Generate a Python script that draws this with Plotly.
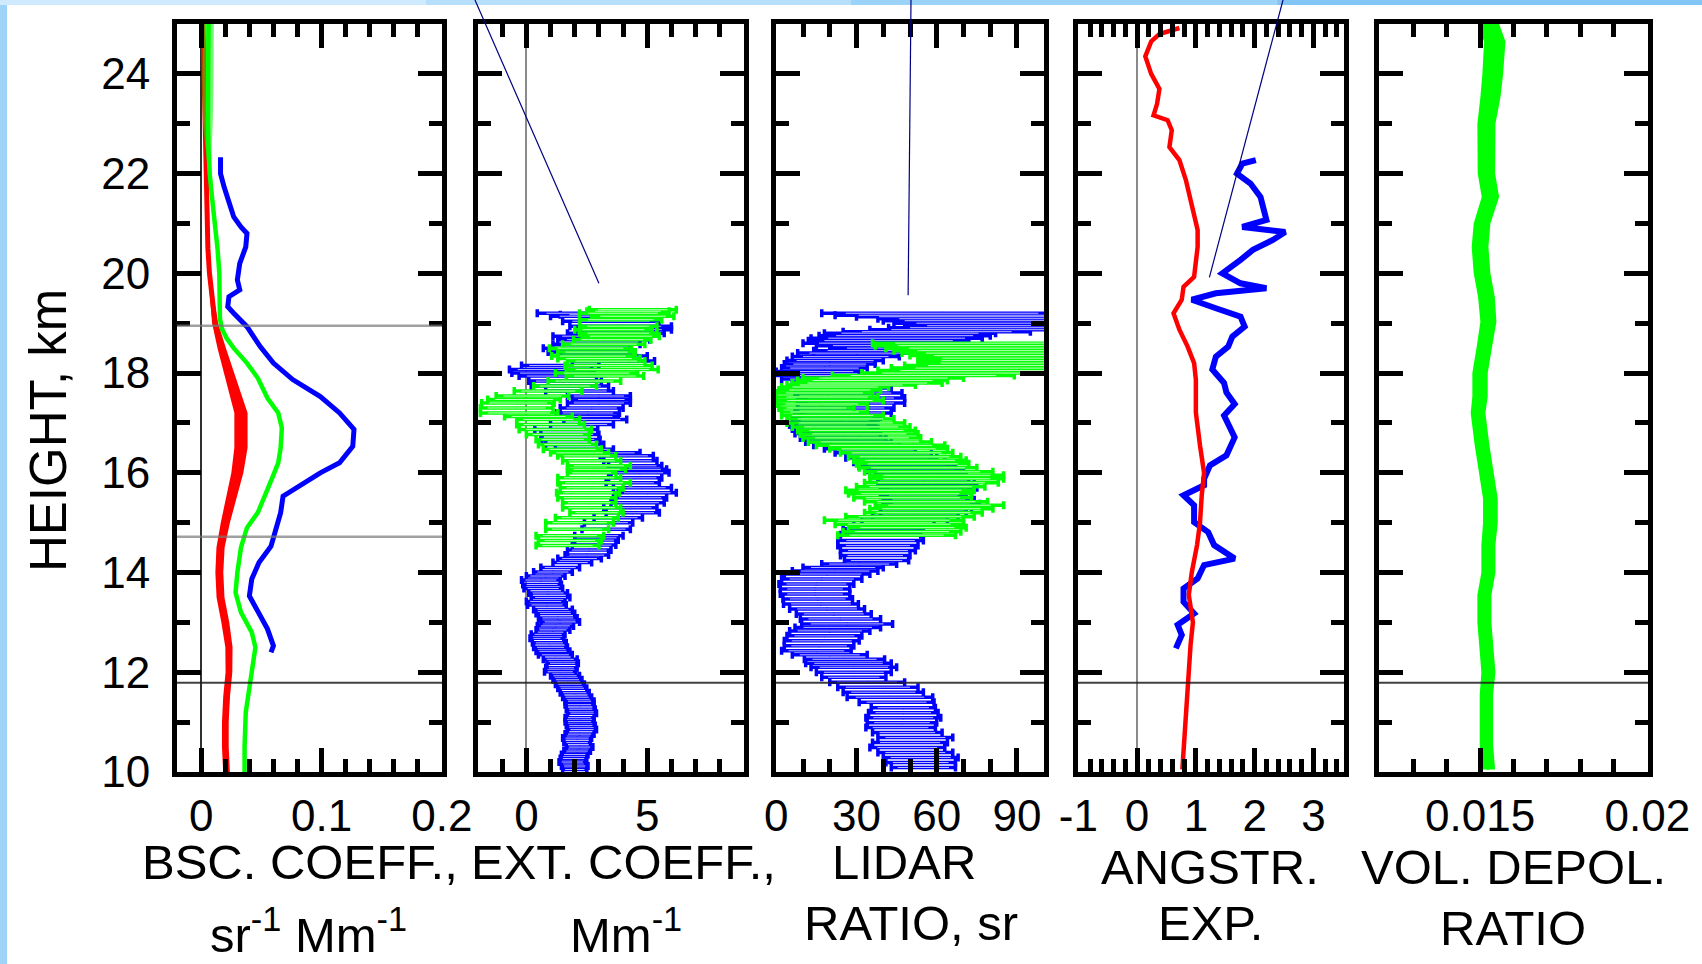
import plotly.graph_objects as go

FONT = "Liberation Sans, Arial, Helvetica, sans-serif"
BLUE, GREEN, RED = "#0000ff", "#00ff00", "#ff0000"

# ---------------- backscatter coefficient (sr^-1 Mm^-1) ----------------
bsc_red_h = [25.0, 24.5, 24.0, 23.5, 23.0, 22.5, 22.0, 21.5, 21.0, 20.5, 20.0, 19.5,
             19.0, 18.5, 18.0, 17.5, 17.2, 16.9, 16.5, 16.0, 15.5, 15.0, 14.5, 14.0,
             13.5, 13.0, 12.5, 12.0, 11.5, 11.0, 10.5, 10.0]
bsc_red = [0.0014, 0.0018, 0.0022, 0.0026, 0.0029, 0.0032, 0.0035, 0.0040, 0.0045, 0.0055,
           0.0068, 0.0088, 0.0115, 0.0170, 0.0230, 0.0290, 0.0330, 0.0330, 0.0330, 0.0300,
           0.0250, 0.0200, 0.0160, 0.0150, 0.0160, 0.0200, 0.0230, 0.0230, 0.0210, 0.0200,
           0.0200, 0.0210]
bsc_red_err = [0.0006, 0.0006, 0.0006, 0.0006, 0.0006, 0.0007, 0.0007, 0.0008, 0.0008, 0.0010,
               0.0012, 0.0017, 0.0025, 0.0035, 0.0043, 0.0052, 0.0055, 0.0055, 0.0055, 0.0050,
               0.0043, 0.0038, 0.0034, 0.0033, 0.0033, 0.0033, 0.0030, 0.0028, 0.0028, 0.0028,
               0.0028, 0.0028]

bsc_green_h = [25.0, 24.5, 24.0, 23.5, 23.0, 22.5, 22.0, 21.5, 21.0, 20.5, 20.0, 19.5, 19.1,
               18.9, 18.7, 18.5, 18.2, 17.9, 17.5, 17.2, 16.9, 16.5, 16.2, 15.9, 15.5, 15.2,
               14.9, 14.5, 14.0, 13.6, 13.2, 12.8, 12.5, 12.0, 11.7, 11.2, 10.5, 10.0]
bsc_green = [0.0060, 0.0058, 0.0056, 0.0055, 0.0055, 0.0060, 0.0070, 0.0090, 0.0115, 0.0135,
             0.0150, 0.0153, 0.0155, 0.0170, 0.0210, 0.0270, 0.0380, 0.0470, 0.0550, 0.0640,
             0.0670, 0.0660, 0.0640, 0.0590, 0.0520, 0.0470, 0.0380, 0.0330, 0.0300, 0.0285,
             0.0330, 0.0420, 0.0450, 0.0420, 0.0400, 0.0370, 0.0360, 0.0360]
bsc_green_err = [0.0045, 0.0047, 0.0047, 0.0045, 0.0040, 0.0025, 0.0015, 0.0012, 0.0010, 0.0010,
                 0.0010, 0.0010, 0.0010, 0.0010, 0.0010, 0.0010, 0.0012, 0.0012, 0.0012, 0.0012,
                 0.0012, 0.0012, 0.0012, 0.0012, 0.0012, 0.0012, 0.0012, 0.0012, 0.0012, 0.0012,
                 0.0012, 0.0012, 0.0012, 0.0012, 0.0012, 0.0012, 0.0012, 0.0012]

bsc_blue_h = [22.33, 22.0, 21.73, 21.4, 21.13, 20.93, 20.8, 20.53, 20.2, 19.87, 19.67, 19.53,
              19.33, 19.2, 18.93, 18.53, 18.2, 17.87, 17.53, 17.2, 16.87, 16.53, 16.2, 16.0,
              15.73, 15.53, 15.2, 14.87, 14.53, 14.2, 13.87, 13.53, 13.2, 12.87, 12.53, 12.4]
bsc_blue = [0.016, 0.016, 0.019, 0.023, 0.027, 0.033, 0.038, 0.037, 0.032, 0.030, 0.032, 0.023,
            0.022, 0.027, 0.038, 0.049, 0.060, 0.076, 0.099, 0.115, 0.127, 0.126, 0.115, 0.099,
            0.082, 0.068, 0.066, 0.062, 0.058, 0.048, 0.042, 0.040, 0.048, 0.055, 0.060, 0.058]

# ---------------- extinction coefficient (Mm^-1) ----------------
ext_blue_h = [19.20, 19.17, 19.14, 19.04, 18.94, 18.87, 18.80, 18.74, 18.67, 18.58, 18.50,
              18.42, 18.34, 18.24, 18.15, 18.07, 18.00, 17.94, 17.84, 17.74, 17.64, 17.54,
              17.47, 17.40, 17.30, 17.20, 17.13, 17.07, 16.97, 16.87, 16.77, 16.67, 16.57,
              16.47, 16.40, 16.34, 16.24, 16.14, 16.07, 16.00, 15.90, 15.80, 15.70, 15.60,
              15.50, 15.40, 15.30, 15.20, 15.10, 15.00, 14.87, 14.74, 14.65, 14.55, 14.45,
              14.35, 14.28, 14.20, 14.10, 14.01, 13.93, 13.85, 13.76, 13.68, 13.59, 13.50,
              13.42, 13.35, 13.26, 13.18, 13.09, 13.01, 12.93, 12.85, 12.76, 12.68, 12.59,
              12.50, 12.42, 12.35, 12.26, 12.18, 12.09, 12.01, 11.93, 11.85, 11.76, 11.68,
              11.59, 11.50, 11.42, 11.35, 11.26, 11.18, 11.09, 11.01, 10.93, 10.85, 10.76,
              10.68, 10.59, 10.50, 10.42, 10.35, 10.27, 10.20, 10.12, 10.05]
ext_blue = [2.35, 3.3, 2.9, 3.5, 3.9, 4.0, 3.7, 3.0, 3.2, 2.9, 2.5, 2.7, 3.2, 3.6, 1.4, 1.0,
            1.1, 1.3, 1.6, 1.8, 2.2, 3.0, 3.1, 3.0, 2.7, 2.55, 2.6, 2.85, 2.3, 1.65, 1.8, 1.85,
            2.0, 2.4, 3.6, 4.15, 4.3, 4.5, 4.6, 4.7, 4.5, 4.4, 4.8, 5.0, 4.7, 4.6, 4.3, 4.4,
            3.8, 3.4, 3.3, 3.0, 2.9, 2.8, 2.6, 2.5, 2.2, 1.9, 1.4, 1.1, 0.8, 0.6, 0.65, 0.7,
            0.9, 1.0, 0.8, 0.85, 1.1, 1.2, 1.3, 1.4, 1.2, 1.1, 0.9, 0.85, 0.95, 1.0, 1.1, 1.2,
            1.4, 1.5, 1.45, 1.4, 1.6, 1.7, 1.8, 1.9, 2.0, 2.1, 2.2, 2.2, 2.25, 2.3, 2.2, 2.2,
            2.25, 2.3, 2.2, 2.1, 2.1, 2.2, 2.1, 2.0, 1.95, 1.9, 2.0, 2.0]
ext_blue_err = [1.9, 1.9, 1.9, 2.0, 2.1, 2.0, 2.0, 1.9, 1.9, 1.8, 1.8, 1.8, 1.8, 1.7, 1.6,
                1.7, 1.7, 1.6, 1.5, 1.6, 1.4, 1.3, 1.2, 1.3, 1.3, 1.3, 1.2, 1.3, 1.3, 1.3, 1.2,
                1.2, 1.2, 1.2, 1.1, 1.1, 1.1, 1.1, 1.2, 1.2, 1.1, 1.1, 1.2, 1.2, 1.1, 1.1, 1.1,
                1.1, 1.0, 1.0, 1.0, 1.0, 0.9, 0.9, 0.9, 0.9, 0.9, 0.8, 0.8, 0.8, 0.8, 0.8, 0.8,
                0.8, 0.8, 0.8, 0.8, 0.8, 0.8, 0.8, 0.8, 0.8, 0.75, 0.7, 0.7, 0.7, 0.7, 0.7, 0.7,
                0.7, 0.7, 0.65, 0.65, 0.65, 0.6, 0.6, 0.6, 0.6, 0.6, 0.6, 0.6, 0.6, 0.6, 0.6,
                0.6, 0.6, 0.6, 0.6, 0.6, 0.6, 0.55, 0.55, 0.55, 0.55, 0.55, 0.55, 0.55, 0.5]

ext_green_h = [19.27, 19.24, 19.20, 19.14, 19.07, 18.94, 18.87, 18.80, 18.74, 18.67, 18.58,
               18.50, 18.42, 18.34, 18.29, 18.24, 18.15, 18.07, 18.00, 17.94, 17.84, 17.74,
               17.64, 17.54, 17.47, 17.40, 17.30, 17.20, 17.13, 17.07, 16.97, 16.87, 16.77,
               16.67, 16.57, 16.47, 16.40, 16.34, 16.24, 16.14, 16.07, 16.00, 15.90, 15.80,
               15.70, 15.60, 15.50, 15.40, 15.30, 15.20, 15.10, 15.00, 14.87, 14.74, 14.64,
               14.54]
ext_green = [4.4, 4.2, 4.0, 4.4, 3.9, 3.8, 3.6, 3.8, 3.9, 3.55, 3.2, 2.65, 2.9, 2.75, 3.0,
             3.3, 3.4, 3.55, 2.9, 3.25, 2.4, 1.6, 0.9, 0.25, -0.1, -0.35, -0.4, -0.3, 0.5, 0.9,
             1.0, 1.2, 1.3, 1.5, 1.7, 1.9, 2.2, 2.5, 2.7, 3.0, 2.9, 2.7, 2.6, 2.8, 2.7, 2.55,
             2.5, 2.6, 2.7, 2.9, 2.5, 2.2, 2.1, 1.8, 1.8, 1.7]
ext_green_err = [1.8, 1.7, 1.8, 1.7, 1.7, 1.6, 1.6, 1.6, 1.6, 1.6, 1.7, 1.7, 1.6, 1.7, 1.7,
                 1.6, 1.8, 1.9, 1.7, 1.6, 1.5, 1.3, 1.4, 1.5, 1.5, 1.5, 1.5, 1.6, 1.4, 1.3, 1.4,
                 1.5, 1.3, 1.1, 1.2, 1.2, 1.2, 1.2, 1.2, 1.3, 1.2, 1.0, 1.3, 1.5, 1.3, 1.3, 1.2,
                 1.1, 1.2, 1.1, 1.3, 1.4, 1.3, 1.4, 1.3, 1.3]

# ---------------- lidar ratio (sr) ----------------
lr_blue_h = [19.20, 19.16, 19.13, 19.09, 19.05, 19.00, 18.95, 18.91, 18.87, 18.83, 18.80,
             18.75, 18.70, 18.65, 18.60, 18.55, 18.50, 18.45, 18.40, 18.33, 18.25, 18.18,
             18.10, 18.03, 17.95, 17.88, 17.80, 17.70, 17.60, 17.50, 17.40, 17.30, 17.20,
             17.12, 17.05, 16.96, 16.88, 16.79, 16.70, 16.62, 16.55, 16.48, 16.40, 16.30,
             16.21, 16.13, 16.05, 15.96, 15.88, 15.79, 15.70, 15.62, 15.55, 15.46, 15.38,
             15.29, 15.21, 15.13, 15.05, 14.96, 14.88, 14.76, 14.64, 14.54, 14.44, 14.34,
             14.24, 14.17, 14.10, 14.03, 13.97, 13.87, 13.77, 13.67, 13.57, 13.47, 13.37,
             13.27, 13.17, 13.07, 12.97, 12.90, 12.83, 12.73, 12.63, 12.53, 12.43, 12.35,
             12.26, 12.18, 12.10, 12.00, 11.90, 11.80, 11.70, 11.60, 11.50, 11.40, 11.29,
             11.19, 11.09, 10.99, 10.89, 10.79, 10.69, 10.59, 10.49, 10.39, 10.29, 10.19,
             10.09]
lr_blue = [62, 66, 72, 78, 80, 86, 90, 82, 75, 60, 50, 48, 45, 42, 40, 46, 52, 40, 30, 26,
           22, 20, 18, 16, 15, 18, 22, 25, 27, 28, 28, 26, 25, 23, 22, 21, 22, 23, 25, 27,
           30, 35, 40, 43, 46, 49, 52, 54, 55, 56, 57, 56, 55, 57, 58, 56, 55, 52, 48, 44,
           40, 39, 39, 38, 38, 37, 37.5, 31, 25, 22, 19, 17, 15, 14.5, 14.5, 15.5, 16.7, 19,
           21.5, 24, 26.5, 23, 20, 18, 17, 16, 15, 20, 25.5, 27, 29, 29, 29, 34, 38, 40,
           42.5, 45, 47.5, 47.5, 47.5, 47, 46.5, 49, 52, 50, 49, 52, 54, 54, 55]
lr_blue_err = [45, 44, 42, 40, 40, 42, 42, 40, 40, 35, 32, 32, 32, 30, 30, 31, 32, 26, 22,
               20, 18, 17, 16, 16, 16, 16, 16, 18, 20, 20, 20, 18, 18, 16, 16, 16, 16, 16,
               16, 16, 16, 17, 18, 17, 17, 18, 18, 17, 17, 18, 18, 17, 16, 17, 18, 17, 16,
               16, 16, 15, 15, 15, 16, 15, 14, 13, 12, 14, 15, 16, 16, 15, 14, 13, 13, 13,
               14, 14, 14, 15, 17, 16, 15, 14, 14, 13, 13, 14, 15, 16, 16, 14, 12, 14, 15,
               15, 16, 14, 12, 13, 14, 13, 13, 13, 14, 14, 14, 14, 14, 13, 12]

lr_green_h = [18.60, 18.55, 18.50, 18.45, 18.40, 18.35, 18.30, 18.25, 18.20, 18.15, 18.10,
              18.05, 18.00, 17.95, 17.90, 17.85, 17.80, 17.76, 17.72, 17.66, 17.60, 17.52,
              17.45, 17.38, 17.30, 17.22, 17.15, 17.08, 17.00, 16.92, 16.85, 16.78, 16.70,
              16.62, 16.55, 16.48, 16.40, 16.32, 16.25, 16.18, 16.10, 16.02, 15.95, 15.88,
              15.80, 15.72, 15.65, 15.58, 15.50, 15.42, 15.35, 15.28, 15.20, 15.12, 15.05,
              14.97, 14.90, 14.82, 14.75]
lr_green = [78, 80, 85, 88, 92, 95, 98, 97, 95, 92, 88, 80, 70, 55, 40, 36, 34, 28, 22, 20,
            18, 19, 20, 17, 15, 18, 21, 24, 26, 28, 30, 31, 32, 35, 39, 42, 45, 48, 50, 51,
            53, 57, 60, 60, 58, 54, 50, 50, 51, 56, 61, 58, 55, 50, 44, 46, 49, 47, 45]
lr_green_err = [42, 43, 44, 44, 45, 45, 45, 44, 42, 44, 45, 42, 38, 34, 30, 28, 28, 24, 20,
                19, 18, 19, 20, 17, 14, 16, 19, 20, 22, 22, 22, 22, 22, 23, 24, 22, 21, 21,
                21, 21, 22, 24, 25, 25, 25, 24, 24, 23, 22, 23, 24, 23, 22, 24, 26, 24, 22,
                22, 22]

# ---------------- Angstrom exponent ----------------
ae_red_h = [24.92, 24.80, 24.65, 24.35, 24.0, 23.7, 23.4, 23.17, 23.07, 22.87, 22.53, 22.27,
            21.87, 21.53, 21.2, 20.87, 20.53, 20.2, 19.93, 19.73, 19.47, 19.2, 18.87, 18.53,
            18.2, 17.87, 17.53, 17.21, 16.55, 16.0, 15.55, 15.0, 14.55, 14.0, 13.55, 13.0,
            12.55, 12.0, 11.55, 11.0, 10.55, 10.05]
ae_red = [0.72, 0.38, 0.24, 0.14, 0.24, 0.38, 0.34, 0.28, 0.52, 0.59, 0.55, 0.72, 0.83, 0.90,
          0.97, 1.03, 1.03, 1.00, 0.97, 0.79, 0.76, 0.62, 0.72, 0.86, 0.97, 1.00, 1.00, 1.00,
          1.07, 1.14, 1.10, 1.07, 1.02, 0.93, 0.88, 0.95, 0.91, 0.88, 0.86, 0.84, 0.81, 0.77]

ae_blue_h = [22.27, 22.2, 22.0, 21.8, 21.53, 21.27, 21.07, 20.93, 20.83, 20.67, 20.47, 20.27,
             20.0, 19.8, 19.7, 19.6, 19.47, 19.3, 19.13, 18.93, 18.73, 18.53, 18.33, 18.07,
             17.8, 17.61, 17.38, 17.15, 16.71, 16.35, 16.15, 15.88, 15.75, 15.55, 15.35,
             15.01, 14.81, 14.55, 14.28, 14.15, 13.88, 13.68, 13.41, 13.18, 12.95, 12.75,
             12.55, 12.48]
ae_blue = [2.02, 1.79, 1.70, 1.93, 2.10, 2.17, 2.20, 1.79, 2.52, 2.31, 1.97, 1.76, 1.45, 1.76,
           2.20, 1.34, 0.93, 1.34, 1.76, 1.83, 1.62, 1.55, 1.34, 1.28, 1.48, 1.52, 1.66, 1.48,
           1.66, 1.52, 1.24, 1.14, 1.14, 0.79, 0.97, 0.97, 1.21, 1.31, 1.66, 1.14, 1.03, 0.79,
           0.79, 0.97, 0.69, 0.76, 0.69, 0.66]

# ---------------- volume depolarization ratio ----------------
vdr_h = [25.0, 24.65, 24.0, 23.53, 23.0, 22.53, 22.0, 21.53, 21.0, 20.53, 20.0, 19.53, 19.03,
         18.53, 18.0, 17.53, 17.2, 16.55, 16.0, 15.48, 15.0, 14.55, 14.0, 13.55, 13.0, 12.55,
         12.0, 11.55, 11.0, 10.55, 10.05]
vdr = [0.01525, 0.01544, 0.01538, 0.01531, 0.01519, 0.01519, 0.01519, 0.01531, 0.01506,
       0.01500, 0.01506, 0.01519, 0.01525, 0.01513, 0.01500, 0.01500, 0.01494, 0.01506,
       0.01519, 0.01531, 0.01531, 0.01525, 0.01525, 0.01513, 0.01513, 0.01519, 0.01525,
       0.01519, 0.01519, 0.01519, 0.01525]
vdr_err = [0.00032, 0.00032, 0.00031, 0.00030, 0.00027, 0.00027, 0.00026, 0.00026, 0.00025,
           0.00025, 0.00025, 0.00025, 0.00024, 0.00023, 0.00023, 0.00023, 0.00022, 0.00022,
           0.00022, 0.00022, 0.00022, 0.00021, 0.00021, 0.00021, 0.00021, 0.00021, 0.00021,
           0.00020, 0.00020, 0.00020, 0.00020]

# layer boundaries (km)
tropopause_km = 11.79
layer_edges_km = [18.95, 14.72]

# axis ticks
height_ticks = [10, 12, 14, 16, 18, 20, 22, 24]
x_tickvals = [[0, 0.1, 0.2], [0, 5], [0, 30, 60, 90], [-1, 0, 1, 2, 3], [0.015, 0.02]]
x_ticktext = [["0", "0.1", "0.2"], ["0", "5"], ["0", "30", "60", "90"],
              ["-1", "0", "1", "2", "3"], ["0.015", "0.02"]]
x_titles = [("BSC. COEFF.,", "sr<sup>-1</sup> Mm<sup>-1</sup>"), ("EXT. COEFF.,", "Mm<sup>-1</sup>"),
            ("LIDAR", "RATIO, sr"), ("ANGSTR.", "EXP."), ("VOL. DEPOL.", "RATIO")]

# ---------------- page geometry (pixels) ----------------
W, H = 1702, 964
PL, PR, PT, PB = 177, 1648, 24, 772
panel_px = [(177, 442), (478, 744), (776, 1044), (1078, 1344), (1379, 1648)]
x_ranges = [[-0.0202, 0.2002], [-2, 9], [-0.1, 100.1], [-1.005, 3.52], [0.01198, 0.02002]]
minor_steps = [(0, 0.02), (0, 1), (0, 10), (-1, 0.2), (0.012, 0.001)]
zero_lines = [("#303030", 1.5), ("#8a8a8a", 2), None, ("#8a8a8a", 1.5), None]
title_x_px = [(300, 308), (623, 626), (904, 911), (1210, 1210), (1513, 1513)]
title_y_px = [(862, 931), (862, 931), (862, 923), (867, 923), (867, 928)]


def fx(px):
    return (px - PL) / (PR - PL)


def fy(py):
    return (PB - py) / (PB - PT)


def data_to_paper(i, x, y):
    lo, hi = panel_px[i]
    r0, r1 = x_ranges[i]
    xp = lo + (x - r0) / (r1 - r0) * (hi - lo)
    yp = PB - (y - 10) / 15 * (PB - PT)
    return fx(xp), fy(yp)


fig = go.Figure()


def ax_name(i, kind):
    return kind if i == 0 else f"{kind}{i + 1}"


def band(i, xs, errs, hs, color):
    lo = [v - e for v, e in zip(xs, errs)]
    hi = [v + e for v, e in zip(xs, errs)]
    fig.add_trace(go.Scatter(x=lo, y=hs, mode="lines", line=dict(width=0, color=color),
                             xaxis=ax_name(i, "x"), yaxis=ax_name(i, "y"), hoverinfo="skip"))
    fig.add_trace(go.Scatter(x=hi, y=hs, mode="lines", line=dict(width=0, color=color),
                             fill="tonextx", fillcolor=color,
                             xaxis=ax_name(i, "x"), yaxis=ax_name(i, "y"), hoverinfo="skip"))


def line(i, xs, hs, color, width):
    fig.add_trace(go.Scatter(x=xs, y=hs, mode="lines", line=dict(color=color, width=width),
                             xaxis=ax_name(i, "x"), yaxis=ax_name(i, "y")))


def errbars(i, xs, errs, hs, color):
    # coloured bar with a thin white core
    fig.add_trace(go.Scatter(x=xs, y=hs, mode="markers", marker=dict(size=3, color=color),
                             error_x=dict(type="data", array=errs, color=color, thickness=3.5, width=4),
                             xaxis=ax_name(i, "x"), yaxis=ax_name(i, "y")))
    fig.add_trace(go.Scatter(x=xs, y=hs, mode="markers", marker=dict(size=0.1, color=color),
                             error_x=dict(type="data", array=[e * 0.8 for e in errs],
                                          color="rgba(255,255,255,0.75)", thickness=1, width=0),
                             xaxis=ax_name(i, "x"), yaxis=ax_name(i, "y")))


# panel 1: backscatter
band(0, bsc_red, bsc_red_err, bsc_red_h, RED)
line(0, bsc_red, bsc_red_h, RED, 5)
band(0, bsc_green, bsc_green_err, bsc_green_h, "rgba(0,255,0,0.55)")
line(0, bsc_green, bsc_green_h, GREEN, 4.5)
line(0, bsc_blue, bsc_blue_h, BLUE, 5)

# panel 2: extinction
errbars(1, ext_blue, ext_blue_err, ext_blue_h, BLUE)
errbars(1, ext_green, ext_green_err, ext_green_h, GREEN)

# panel 3: lidar ratio
errbars(2, lr_blue, lr_blue_err, lr_blue_h, BLUE)
errbars(2, lr_green, lr_green_err, lr_green_h, GREEN)

# panel 4: Angstrom exponent
line(3, ae_blue, ae_blue_h, BLUE, 6)
line(3, ae_red, ae_red_h, RED, 4.5)

# panel 5: depolarization
band(4, vdr, vdr_err, vdr_h, GREEN)
line(4, vdr, vdr_h, GREEN, 3)

tick_font = dict(family=FONT, size=44, color="black")
layout = dict(
    width=W, height=H, showlegend=False,
    paper_bgcolor="white", plot_bgcolor="white",
    margin=dict(l=PL, r=W - PR, t=PT, b=H - PB, pad=0),
    font=dict(family=FONT, color="black"),
)

for i in range(5):
    lo, hi = panel_px[i]
    t0, dt = minor_steps[i]
    xa = dict(
        domain=[fx(lo), fx(hi)], range=x_ranges[i], anchor=ax_name(i, "y"),
        showline=True, linecolor="black", linewidth=5, mirror="ticks",
        ticks="inside", ticklen=24, tickwidth=5, tickcolor="black",
        tickmode="array", tickvals=x_tickvals[i], ticktext=x_ticktext[i],
        tickfont=tick_font, ticklabelstandoff=1, showgrid=False,
        minor=dict(ticks="inside", ticklen=13, tickwidth=5, tickcolor="black",
                   tickmode="linear", tick0=t0, dtick=dt, showgrid=False),
        fixedrange=True,
    )
    if zero_lines[i]:
        xa.update(zeroline=True, zerolinecolor=zero_lines[i][0], zerolinewidth=zero_lines[i][1])
    else:
        xa.update(zeroline=False)
    ya = dict(
        domain=[0, 1], range=[10, 25], anchor=ax_name(i, "x"),
        showline=True, linecolor="black", linewidth=5, mirror="ticks",
        ticks="inside", ticklen=24, tickwidth=5, tickcolor="black",
        tickmode="array", tickvals=height_ticks, showticklabels=(i == 0),
        tickfont=tick_font, ticklabelstandoff=13, showgrid=False, zeroline=False,
        minor=dict(ticks="inside", ticklen=13, tickwidth=5, tickcolor="black",
                   tickmode="linear", tick0=10, dtick=1, showgrid=False),
        fixedrange=True,
    )
    layout["xaxis" if i == 0 else f"xaxis{i + 1}"] = xa
    layout["yaxis" if i == 0 else f"yaxis{i + 1}"] = ya

fig.update_layout(**layout)

shapes = []
# light-blue slide border
shapes.append(dict(type="rect", xref="paper", yref="paper", x0=fx(0), x1=fx(7), y0=fy(H), y1=fy(0),
                   fillcolor="#9fd3f7", line=dict(width=0), layer="below"))
strip_cols = ["#cfeafc", "#b5dffa", "#9ad2f8", "#82c6f6"]
seg = W / len(strip_cols)
for k, c in enumerate(strip_cols):
    shapes.append(dict(type="rect", xref="paper", yref="paper", x0=fx(k * seg), x1=fx((k + 1) * seg),
                       y0=fy(5), y1=fy(0), fillcolor=c, line=dict(width=0), layer="below"))

# reference heights
for i in range(5):
    shapes.append(dict(type="line", xref=f"{ax_name(i, 'x')} domain", yref=ax_name(i, "y"),
                       x0=0, x1=1, y0=tropopause_km, y1=tropopause_km,
                       line=dict(color="rgba(30,30,30,0.85)", width=2.2), layer="above"))
for hk in layer_edges_km:
    shapes.append(dict(type="line", xref="x domain", yref="y", x0=0, x1=1, y0=hk, y1=hk,
                       line=dict(color="rgba(120,120,120,0.7)", width=2.5), layer="above"))

# leader lines from the slide header to the profiles
leaders = [(1, 3.0, 19.8, 475), (2, 49.3, 19.56, 911), (3, 1.23, 19.92, 1283)]
for i, xv, yv, top_px in leaders:
    x1p, y1p = data_to_paper(i, xv, yv)
    shapes.append(dict(type="line", xref="paper", yref="paper", x0=fx(top_px), y0=fy(0),
                       x1=x1p, y1=y1p, line=dict(color="#000080", width=1.2), layer="above"))

annotations = [dict(text="HEIGHT, km", xref="paper", yref="paper", x=fx(48), y=fy(431),
                    textangle=-90, showarrow=False, xanchor="center", yanchor="middle",
                    font=dict(family=FONT, size=51, color="black"))]
for (l1, l2), (x1, x2), (y1, y2) in zip(x_titles, title_x_px, title_y_px):
    annotations.append(dict(text=l1, xref="paper", yref="paper", x=fx(x1), y=fy(y1),
                            showarrow=False, xanchor="center", yanchor="middle",
                            font=dict(family=FONT, size=49, color="black")))
    annotations.append(dict(text=l2, xref="paper", yref="paper", x=fx(x2), y=fy(y2),
                            showarrow=False, xanchor="center", yanchor="middle",
                            font=dict(family=FONT, size=49, color="black")))

fig.update_layout(shapes=shapes, annotations=annotations)
fig.write_html("out.html")
